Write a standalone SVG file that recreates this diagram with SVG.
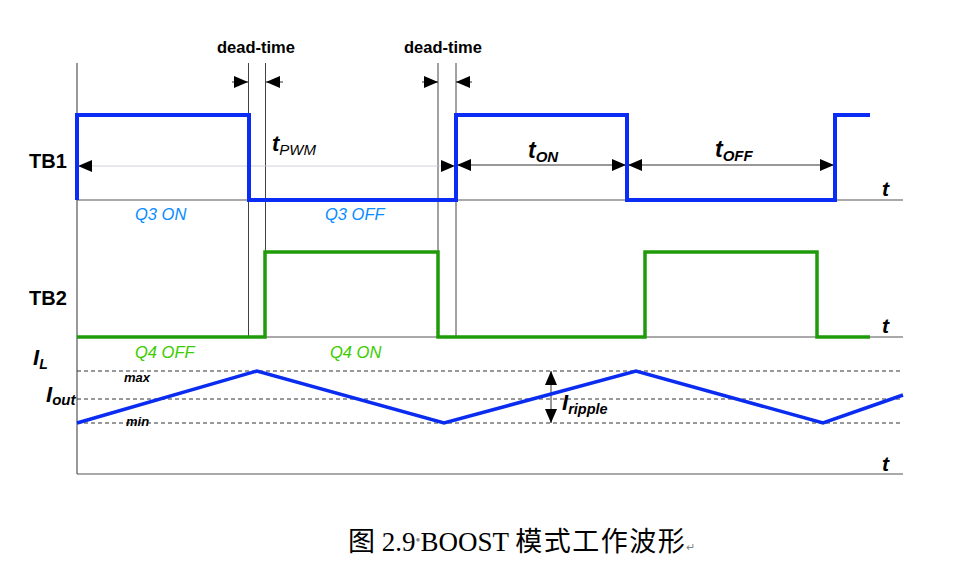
<svg xmlns="http://www.w3.org/2000/svg" width="971" height="565" viewBox="0 0 971 565">
<style>
.ax{stroke:#555;stroke-width:1.2;fill:none}
.guide{stroke:#444;stroke-width:1;fill:none}
.dash{stroke:#333;stroke-width:1;stroke-dasharray:4 3;fill:none}
.arr{stroke:#333;stroke-width:1;fill:none}
.faint{stroke:#c4c4d4;stroke-width:0.8;fill:none}
.tb1{stroke:#0a2cf5;stroke-width:4;fill:none;stroke-linejoin:miter}
.tb2{stroke:#1f9a08;stroke-width:3.5;fill:none;stroke-linejoin:miter}
.il{stroke:#0a2cf0;stroke-width:3.5;fill:none}
.lbl{font-family:"Liberation Sans",Arial,sans-serif;font-weight:bold;fill:#000}
.it{font-family:"Liberation Sans",Arial,sans-serif;font-style:italic;fill:#000}
.bi{font-family:"Liberation Sans",Arial,sans-serif;font-style:italic;font-weight:bold;fill:#000}
.q3{font-family:"Liberation Sans",Arial,sans-serif;font-style:italic;font-size:16.5px;fill:#0a8cff}
.q4{font-family:"Liberation Sans",Arial,sans-serif;font-style:italic;font-size:16.5px;fill:#3ccc00}
</style>
<defs>
<marker id="ah" markerUnits="userSpaceOnUse" markerWidth="14" markerHeight="12" refX="14" refY="6" orient="auto-start-reverse">
<path d="M0,0 L14,6 L0,12 z" fill="#000"/>
</marker>
</defs>

<g id="axes">
<line class="ax" x1="77" y1="63" x2="77" y2="474"/>
<line class="ax" x1="77" y1="200" x2="903" y2="200" stroke="#777"/>
<line class="ax" x1="77" y1="337" x2="903" y2="337" stroke="#999"/>
<line class="ax" x1="77" y1="474" x2="903" y2="474" stroke="#333" stroke-width="1.6"/>
<line class="dash" x1="77" y1="371" x2="903" y2="371"/>
<line class="dash" x1="77" y1="399" x2="903" y2="399"/>
<line class="dash" x1="77" y1="423" x2="903" y2="423" stroke="#666"/>
</g>

<g id="guides">
<line class="guide" x1="248.5" y1="63" x2="248.5" y2="338"/>
<line class="guide" x1="265.5" y1="63" x2="265.5" y2="338"/>
<line class="guide" x1="438" y1="63" x2="438" y2="338"/>
<line class="guide" x1="456" y1="63" x2="456" y2="338"/>
</g>

<g id="connectors">
<line class="arr" x1="232" y1="82" x2="248" y2="82" marker-end="url(#ah)"/>
<line class="arr" x1="283" y1="82" x2="266" y2="82" marker-end="url(#ah)"/>
<line class="arr" x1="422" y1="82" x2="438" y2="82" marker-end="url(#ah)"/>
<line class="arr" x1="472" y1="82" x2="456" y2="82" marker-end="url(#ah)"/>
<line class="faint" x1="78" y1="166" x2="455" y2="166" marker-start="url(#ah)" marker-end="url(#ah)"/>
<line class="arr" x1="457" y1="165" x2="626" y2="165" marker-start="url(#ah)" marker-end="url(#ah)"/>
<line class="arr" x1="628" y1="165" x2="834" y2="165" marker-start="url(#ah)" marker-end="url(#ah)"/>
<line class="arr" x1="551" y1="371" x2="551" y2="423" marker-start="url(#ah)" marker-end="url(#ah)" stroke-width="1.5"/>
</g>

<g id="tb1-wave">
<polyline class="tb1" points="77,200 77,115 249,115 249,200 456,200 456,115 627,115 627,200 835,200 835,115 870,115"/>
</g>
<g id="tb2-wave">
<polyline class="tb2" points="77,337 265,337 265,252 438,252 438,337 645,337 645,252 817,252 817,337 870,337"/>
</g>
<g id="il-wave">
<polyline class="il" points="77,423 257,371 444,423 636,371 823,423 903,395"/>
</g>

<g id="labels">
<text class="lbl" x="217" y="53" font-size="16.5">dead-time</text>
<text class="lbl" x="404" y="53" font-size="16.5">dead-time</text>
<text class="lbl" x="29" y="168" font-size="20">TB1</text>
<text class="lbl" x="29" y="305" font-size="20">TB2</text>
<text x="272" y="151"><tspan class="bi" font-size="22">t</tspan><tspan class="it" font-size="15" dy="4">PWM</tspan></text>
<text x="528" y="158"><tspan class="bi" font-size="23">t</tspan><tspan class="bi" font-size="15" dy="4">ON</tspan></text>
<text x="715" y="157"><tspan class="bi" font-size="23">t</tspan><tspan class="bi" font-size="15" dy="4">OFF</tspan></text>
<text class="bi" x="882" y="196" font-size="21">t</text>
<text class="bi" x="882" y="333" font-size="21">t</text>
<text class="bi" x="882" y="471" font-size="21">t</text>
<text class="q3" x="135" y="220">Q3 ON</text>
<text class="q3" x="325" y="220">Q3 OFF</text>
<text class="q4" x="135" y="358">Q4 OFF</text>
<text class="q4" x="330" y="358">Q4 ON</text>
<text x="33" y="365"><tspan class="bi" font-size="22">I</tspan><tspan class="bi" font-size="14" dy="4">L</tspan></text>
<text x="46" y="402"><tspan class="bi" font-size="22">I</tspan><tspan class="bi" font-size="15" dy="3">out</tspan></text>
<text class="bi" x="124" y="382" font-size="13">max</text>
<text class="bi" x="126" y="426" font-size="13">min</text>
<text x="562" y="410"><tspan class="bi" font-size="22">I</tspan><tspan class="bi" font-size="14.5" dy="4">ripple</tspan></text>
</g>

<g id="caption">
<text x="348" y="551" font-family="'Liberation Serif','Noto Sans CJK SC',serif" font-size="27" fill="#000">图 2.9<tspan fill="#888" font-size="14" dy="-6">•</tspan><tspan dy="6">BOOST </tspan><tspan letter-spacing="1.5">模式工作波形</tspan><tspan fill="#888" font-size="11">↵</tspan></text>
</g>
</svg>
